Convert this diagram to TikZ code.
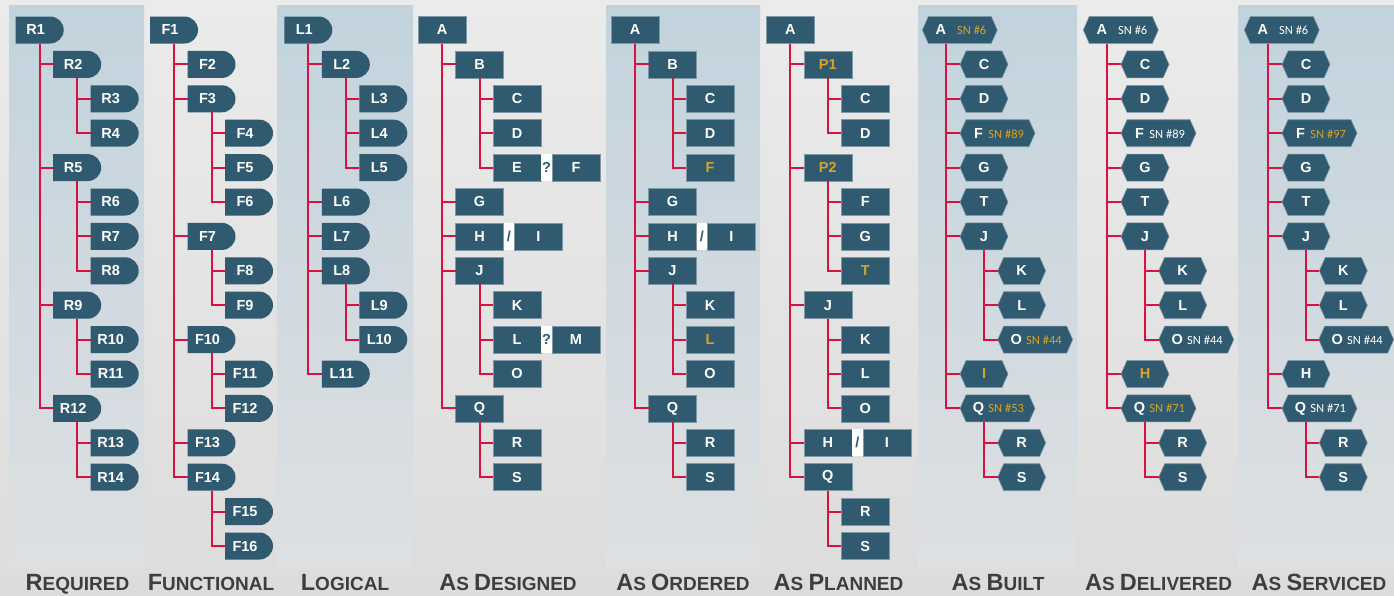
\documentclass[tikz,border=0pt]{standalone}
\usepackage{fontspec}
\setmainfont{Liberation Sans}
\newfontfamily\snfam{Carlito}
\definecolor{nodefill}{HTML}{2F5A70}
\definecolor{nodeedge}{HTML}{7F98A6}
\definecolor{linered}{HTML}{D81240}
\definecolor{goldc}{HTML}{D8A428}
\definecolor{paneltop}{HTML}{C2D3DD}
\definecolor{panelbot}{HTML}{DEE0E2}
\definecolor{bgtop}{HTML}{EBEBEB}
\definecolor{bgbot}{HTML}{DCDCDC}
\definecolor{titlec}{HTML}{3E3E3E}
\pgfdeclarelayer{bgl}
\pgfdeclarelayer{shp}
\pgfsetlayers{bgl,shp,main}
\newcommand\labfont{\fontsize{14.5}{14.5}\selectfont\bfseries}
\newcommand\snfont{\snfam\mdseries\fontsize{12.5}{12.5}\selectfont}
\newcommand\TitBig[1]{{\fontsize{23.5}{23.5}\selectfont #1}}
\newcommand\TitSm[1]{{\fontsize{19}{19}\selectfont #1}}
\newcommand\hwtext[2]{\makebox[37pt][c]{#1}\makebox[27pt][r]{\snfont #2}\hspace*{11pt}}
\newcommand\mkR[5][]{\node[rbox,#1] (#2) at (#3,{30+(#4-1)*34.4}) {#5};}
\newcommand\mkD[4]{\node[dbox] (#1) at (#2,{30+(#3-1)*34.4}) {#4\hspace*{8pt}};
  \begin{pgfonlayer}{shp}\fill[nodefill] (#1.north west) -- ([xshift=-13.5pt]#1.north east) arc[start angle=90,end angle=-90,radius=13.5pt] -- (#1.south west) -- cycle;\end{pgfonlayer}}
\newcommand\mkH[5][]{\node[hbox,#1] (#2) at (#3,{30+(#4-1)*34.4}) {#5};
  \begin{pgfonlayer}{shp}\filldraw[fill=nodefill,draw=nodeedge,line width=0.6pt] (#2.west) -- ([xshift=6pt]#2.north west) -- ([xshift=-6pt]#2.north east) -- (#2.east) -- ([xshift=-6pt]#2.south east) -- ([xshift=6pt]#2.south west) -- cycle;\end{pgfonlayer}}
\newcommand\mkG[6][]{\node[gapbox] (#2) at (#3.east) {#4}; \node[rbox,#1] (#5) at (#2.east) {#6};}
\newcommand\mkC[2]{\draw[conn] ([xshift=24pt]#1.south west) |- (#2.west);}
\begin{document}
\begin{tikzpicture}[x=1pt,y=-1pt,
  lab/.style={font=\labfont, text=white, inner sep=0pt, outer sep=0pt, minimum height=27pt},
  rbox/.style={lab, rectangle, fill=nodefill, draw=nodeedge, line width=0.6pt, minimum width=48pt, anchor=west},
  dbox/.style={lab, rectangle, minimum width=48pt, anchor=west},
  hbox/.style={lab, rectangle, minimum width=48pt, anchor=west},
  hwide/.style={minimum width=75pt},
  gapbox/.style={lab, rectangle, fill=white, minimum width=11pt, text=nodefill, anchor=west},
  conn/.style={draw=linered, line width=2pt},
  gold/.style={text=goldc},
  ttl/.style={anchor=base, inner sep=0pt, text=titlec, font=\bfseries}]
\useasboundingbox (0,0) rectangle (1394,595);
\begin{pgfonlayer}{bgl}
\shade[top color=bgtop, bottom color=bgbot] (0,0) rectangle (1394,595);
\foreach \a/\b in {9/144, 277/413, 606/760, 918/1077, 1238/1400}
  \shade[top color=paneltop, bottom color=panelbot] (\a,5) rectangle (\b,568);
\end{pgfonlayer}
% ---------- Required
\mkD{R1}{15.7}{1}{R1}
\mkD{R2}{53.2}{2}{R2}
\mkD{R3}{90.7}{3}{R3}
\mkD{R4}{90.7}{4}{R4}
\mkD{R5}{53.2}{5}{R5}
\mkD{R6}{90.7}{6}{R6}
\mkD{R7}{90.7}{7}{R7}
\mkD{R8}{90.7}{8}{R8}
\mkD{R9}{53.2}{9}{R9}
\mkD{R10}{90.7}{10}{R10}
\mkD{R11}{90.7}{11}{R11}
\mkD{R12}{53.2}{12}{R12}
\mkD{R13}{90.7}{13}{R13}
\mkD{R14}{90.7}{14}{R14}
\foreach \c in {R2,R5,R9,R12} {\mkC{R1}{\c}}
\foreach \c in {R3,R4} {\mkC{R2}{\c}}
\foreach \c in {R6,R7,R8} {\mkC{R5}{\c}}
\foreach \c in {R10,R11} {\mkC{R9}{\c}}
\foreach \c in {R13,R14} {\mkC{R12}{\c}}
% ---------- Functional
\mkD{F1}{150}{1}{F1}
\mkD{F2}{187.5}{2}{F2}
\mkD{F3}{187.5}{3}{F3}
\mkD{F4}{225}{4}{F4}
\mkD{F5}{225}{5}{F5}
\mkD{F6}{225}{6}{F6}
\mkD{F7}{187.5}{7}{F7}
\mkD{F8}{225}{8}{F8}
\mkD{F9}{225}{9}{F9}
\mkD{F10}{187.5}{10}{F10}
\mkD{F11}{225}{11}{F11}
\mkD{F12}{225}{12}{F12}
\mkD{F13}{187.5}{13}{F13}
\mkD{F14}{187.5}{14}{F14}
\mkD{F15}{225}{15}{F15}
\mkD{F16}{225}{16}{F16}
\foreach \c in {F2,F3,F7,F10,F13,F14} {\mkC{F1}{\c}}
\foreach \c in {F4,F5,F6} {\mkC{F3}{\c}}
\foreach \c in {F8,F9} {\mkC{F7}{\c}}
\foreach \c in {F11,F12} {\mkC{F10}{\c}}
\foreach \c in {F15,F16} {\mkC{F14}{\c}}
% ---------- Logical
\mkD{L1}{284.3}{1}{L1}
\mkD{L2}{321.8}{2}{L2}
\mkD{L3}{359.3}{3}{L3}
\mkD{L4}{359.3}{4}{L4}
\mkD{L5}{359.3}{5}{L5}
\mkD{L6}{321.8}{6}{L6}
\mkD{L7}{321.8}{7}{L7}
\mkD{L8}{321.8}{8}{L8}
\mkD{L9}{359.3}{9}{L9}
\mkD{L10}{359.3}{10}{L10}
\mkD{L11}{321.8}{11}{L11}
\foreach \c in {L2,L6,L7,L8,L11} {\mkC{L1}{\c}}
\foreach \c in {L3,L4,L5} {\mkC{L2}{\c}}
\foreach \c in {L9,L10} {\mkC{L8}{\c}}
% ---------- As Designed
\mkR{dA}{418}{1}{A}
\mkR{dB}{455.5}{2}{B}
\mkR{dC}{493}{3}{C}
\mkR{dD}{493}{4}{D}
\mkR{dE}{493}{5}{E}
\mkG{dq1}{dE}{?}{dF}{F}
\mkR{dG}{455.5}{6}{G}
\mkR{dH}{455.5}{7}{H}
\mkG{dsl}{dH}{/}{dI}{I}
\mkR{dJ}{455.5}{8}{J}
\mkR{dK}{493}{9}{K}
\mkR{dL}{493}{10}{L}
\mkG{dq2}{dL}{?}{dM}{M}
\mkR{dO}{493}{11}{O}
\mkR{dQ}{455.5}{12}{Q}
\mkR{dR}{493}{13}{R}
\mkR{dS}{493}{14}{S}
\foreach \c in {dB,dG,dH,dJ,dQ} {\mkC{dA}{\c}}
\foreach \c in {dC,dD,dE} {\mkC{dB}{\c}}
\foreach \c in {dK,dL,dO} {\mkC{dJ}{\c}}
\foreach \c in {dR,dS} {\mkC{dQ}{\c}}
% ---------- As Ordered
\mkR{oA}{611}{1}{A}
\mkR{oB}{648.5}{2}{B}
\mkR{oC}{686}{3}{C}
\mkR{oD}{686}{4}{D}
\mkR[gold]{oF}{686}{5}{F}
\mkR{oG}{648.5}{6}{G}
\mkR{oH}{648.5}{7}{H}
\mkG{osl}{oH}{/}{oI}{I}
\mkR{oJ}{648.5}{8}{J}
\mkR{oK}{686}{9}{K}
\mkR[gold]{oL}{686}{10}{L}
\mkR{oO}{686}{11}{O}
\mkR{oQ}{648.5}{12}{Q}
\mkR{oR}{686}{13}{R}
\mkR{oS}{686}{14}{S}
\foreach \c in {oB,oG,oH,oJ,oQ} {\mkC{oA}{\c}}
\foreach \c in {oC,oD,oF} {\mkC{oB}{\c}}
\foreach \c in {oK,oL,oO} {\mkC{oJ}{\c}}
\foreach \c in {oR,oS} {\mkC{oQ}{\c}}
% ---------- As Planned
\mkR{pA}{766.3}{1}{A}
\mkR[gold]{pP1}{803.8}{2}{P1}
\mkR{pC}{841.3}{3}{C}
\mkR{pD}{841.3}{4}{D}
\mkR[gold]{pP2}{803.8}{5}{P2}
\mkR{pF}{841.3}{6}{F}
\mkR{pG}{841.3}{7}{G}
\mkR[gold]{pT}{841.3}{8}{T}
\mkR{pJ}{803.8}{9}{J}
\mkR{pK}{841.3}{10}{K}
\mkR{pL}{841.3}{11}{L}
\mkR{pO}{841.3}{12}{O}
\mkR{pH}{803.8}{13}{H}
\mkG{psl}{pH}{/}{pI}{I}
\mkR{pQ}{803.8}{14}{Q}
\mkR{pR}{841.3}{15}{R}
\mkR{pS}{841.3}{16}{S}
\foreach \c in {pP1,pP2,pJ,pH,pQ} {\mkC{pA}{\c}}
\foreach \c in {pC,pD} {\mkC{pP1}{\c}}
\foreach \c in {pF,pG,pT} {\mkC{pP2}{\c}}
\foreach \c in {pK,pL,pO} {\mkC{pJ}{\c}}
\foreach \c in {pR,pS} {\mkC{pQ}{\c}}
% ---------- As Built
\mkH[hwide]{bA}{922.3}{1}{\hwtext{A}{\textcolor{goldc}{SN \#6}}}
\mkH{bC}{960}{2}{C}
\mkH{bD}{960}{3}{D}
\mkH[hwide]{bF}{960}{4}{\hwtext{F}{\textcolor{goldc}{SN \#89}}}
\mkH{bG}{960}{5}{G}
\mkH{bT}{960}{6}{T}
\mkH{bJ}{960}{7}{J}
\mkH{bK}{997.7}{8}{K}
\mkH{bL}{997.7}{9}{L}
\mkH[hwide]{bO}{997.7}{10}{\hwtext{O}{\textcolor{goldc}{SN \#44}}}
\mkH[gold]{bI}{960}{11}{I}
\mkH[hwide]{bQ}{960}{12}{\hwtext{Q}{\textcolor{goldc}{SN \#53}}}
\mkH{bR}{997.7}{13}{R}
\mkH{bS}{997.7}{14}{S}
\foreach \c in {bC,bD,bF,bG,bT,bJ,bI,bQ} {\mkC{bA}{\c}}
\foreach \c in {bK,bL,bO} {\mkC{bJ}{\c}}
\foreach \c in {bR,bS} {\mkC{bQ}{\c}}
% ---------- As Delivered
\mkH[hwide]{vA}{1083.3}{1}{\hwtext{A}{SN \#6}}
\mkH{vC}{1121}{2}{C}
\mkH{vD}{1121}{3}{D}
\mkH[hwide]{vF}{1121}{4}{\hwtext{F}{SN \#89}}
\mkH{vG}{1121}{5}{G}
\mkH{vT}{1121}{6}{T}
\mkH{vJ}{1121}{7}{J}
\mkH{vK}{1158.7}{8}{K}
\mkH{vL}{1158.7}{9}{L}
\mkH[hwide]{vO}{1158.7}{10}{\hwtext{O}{SN \#44}}
\mkH[gold]{vH}{1121}{11}{H}
\mkH[hwide]{vQ}{1121}{12}{\hwtext{Q}{\textcolor{goldc}{SN \#71}}}
\mkH{vR}{1158.7}{13}{R}
\mkH{vS}{1158.7}{14}{S}
\foreach \c in {vC,vD,vF,vG,vT,vJ,vH,vQ} {\mkC{vA}{\c}}
\foreach \c in {vK,vL,vO} {\mkC{vJ}{\c}}
\foreach \c in {vR,vS} {\mkC{vQ}{\c}}
% ---------- As Serviced
\mkH[hwide]{sA}{1244.3}{1}{\hwtext{A}{SN \#6}}
\mkH{sC}{1282}{2}{C}
\mkH{sD}{1282}{3}{D}
\mkH[hwide]{sF}{1282}{4}{\hwtext{F}{\textcolor{goldc}{SN \#97}}}
\mkH{sG}{1282}{5}{G}
\mkH{sT}{1282}{6}{T}
\mkH{sJ}{1282}{7}{J}
\mkH{sK}{1319.3}{8}{K}
\mkH{sL}{1319.3}{9}{L}
\mkH[hwide]{sO}{1318.7}{10}{\hwtext{O}{SN \#44}}
\mkH{sH}{1282}{11}{H}
\mkH[hwide]{sQ}{1282}{12}{\hwtext{Q}{SN \#71}}
\mkH{sR}{1319.3}{13}{R}
\mkH{sS}{1319.3}{14}{S}
\foreach \c in {sC,sD,sF,sG,sT,sJ,sH,sQ} {\mkC{sA}{\c}}
\foreach \c in {sK,sL,sO} {\mkC{sJ}{\c}}
\foreach \c in {sR,sS} {\mkC{sQ}{\c}}
% ---------- Titles
\node[ttl] (t1) at (77.5,590.5) {\TitBig{R}\TitSm{EQUIRED}};
\node[ttl] (t2) at (211,590.5) {\TitBig{F}\TitSm{UNCTIONAL}};
\node[ttl] (t3) at (345,590.5) {\TitBig{L}\TitSm{OGICAL}};
\node[ttl] (t4) at (508,590.5) {\TitBig{A}\TitSm{S }\TitBig{D}\TitSm{ESIGNED}};
\node[ttl] (t5) at (683,590.5) {\TitBig{A}\TitSm{S }\TitBig{O}\TitSm{RDERED}};
\node[ttl] (t6) at (838.5,590.5) {\TitBig{A}\TitSm{S }\TitBig{P}\TitSm{LANNED}};
\node[ttl] (t7) at (998,590.5) {\TitBig{A}\TitSm{S }\TitBig{B}\TitSm{UILT}};
\node[ttl] (t8) at (1158.5,590.5) {\TitBig{A}\TitSm{S }\TitBig{D}\TitSm{ELIVERED}};
\node[ttl] (t9) at (1319,590.5) {\TitBig{A}\TitSm{S }\TitBig{S}\TitSm{ERVICED}};
\end{tikzpicture}
\end{document}
